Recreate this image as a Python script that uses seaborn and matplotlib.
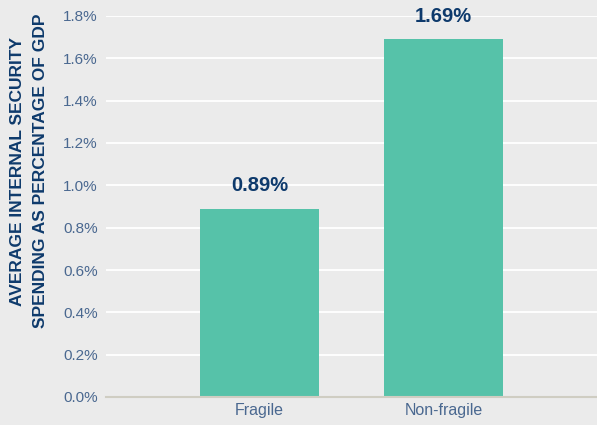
import seaborn as sns
import pandas as pd
from matplotlib import pyplot as plt
from matplotlib.ticker import FuncFormatter

# values
groups = ['Fragile', 'Non-fragile']
spending = [0.89, 1.69]
yticks = [0.0, 0.2, 0.4, 0.6, 0.8, 1.0, 1.2, 1.4, 1.6, 1.8]

df = pd.DataFrame({'group': groups, 'spending': spending})

sns.set_style('darkgrid', {'axes.facecolor': '#ebebeb', 'grid.color': 'white'})
plt.rcParams['font.family'] = ['Liberation Sans', 'DejaVu Sans']

fig = plt.figure(figsize=(5.97, 4.25), dpi=100, facecolor='#ebebeb')
ax = fig.add_axes([106 / 597, 28 / 425, 491 / 597, 381 / 425])

sns.barplot(data=df, x='group', y='spending', color='#56c2a9', saturation=1,
            width=0.647, linewidth=0, ax=ax)

for i, v in enumerate(spending):
    ax.text(i, v + 0.065, f'{v:.2f}%', ha='center', va='bottom',
            fontsize=14.5, fontweight='bold', color='#0e3a6c', clip_on=False)

ax.set_xlim(-0.834, 1.834)
ax.set_ylim(0, 1.8)
ax.set_yticks(yticks)
ax.yaxis.set_major_formatter(FuncFormatter(lambda v, p: f'{v:.1f}%'))
ax.grid(axis='x', visible=False)
ax.grid(axis='y', color='white', linewidth=1.3)

for s in ['top', 'right', 'left']:
    ax.spines[s].set_visible(False)
ax.spines['bottom'].set_visible(True)
ax.spines['bottom'].set_color('#cfcdc2')
ax.spines['bottom'].set_linewidth(1.5)

ax.tick_params(axis='both', length=0, labelsize=11, labelcolor='#4a6890')
ax.tick_params(axis='x', labelsize=11.5, pad=4)
ax.tick_params(axis='y', pad=6)
ax.set_xlabel('')
ax.set_ylabel('')

fig.text(29 / 597, 1 - 171 / 425,
         'AVERAGE INTERNAL SECURITY\nSPENDING AS PERCENTAGE OF GDP',
         rotation=90, ha='center', va='center', multialignment='center',
         fontsize=12.5, fontweight='bold', color='#0e3a6c', linespacing=1.6)

fig.savefig('out.png', dpi=100, facecolor=fig.get_facecolor())
